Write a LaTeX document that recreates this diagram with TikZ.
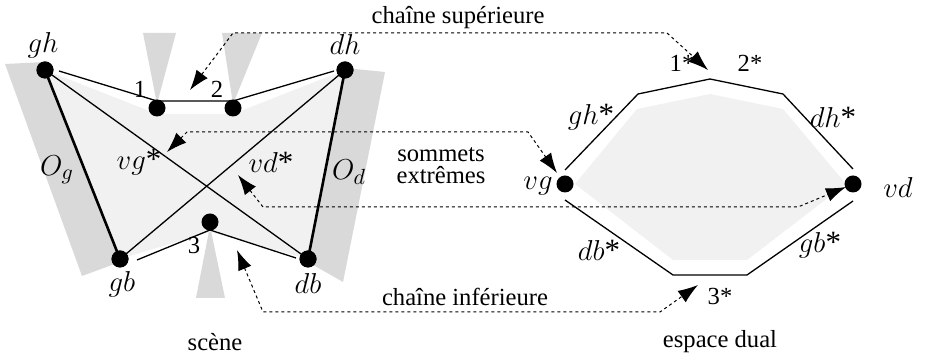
\documentclass[tikz,border=0pt]{standalone}
\usepackage{fontspec}
\setmainfont{Liberation Serif}
\usetikzlibrary{arrows.meta}
\definecolor{lightg}{HTML}{F1F1F1}
\definecolor{midg}{HTML}{D9D9D9}
\begin{document}
\begin{tikzpicture}[x=0.5pt,y=-0.5pt,
  dot/.style={circle,fill=black,inner sep=0pt,minimum size=8.5pt},
  lbl/.style={inner sep=0pt,font=\fontsize{12.3}{14}\selectfont},
  mlbl/.style={inner sep=0pt,font=\fontsize{15.5}{17}\selectfont},
  thinl/.style={line width=0.65pt},
  thickl/.style={line width=1.3pt},
  darrow/.style={line width=0.5pt,dash pattern=on 1.5pt off 1.5pt,{Latex[length=10pt,width=7pt]}-{Latex[length=10pt,width=7pt]}}]
\useasboundingbox (0,0) rectangle (926,356);
% grey obstacles
\fill[midg] (5,64) -- (45,62) -- (120,262) -- (82,276) -- cycle;
\fill[midg] (345,68) -- (385,72) -- (343,282) -- (308,262) -- cycle;
\fill[midg] (143,33) -- (176,33) -- (157,104) -- cycle;
\fill[midg] (222,33) -- (262,33) -- (233,104) -- cycle;
\fill[midg] (196,298) -- (225,298) -- (210,226) -- cycle;
% light interior
\fill[lightg] (45,70) -- (157,114) -- (233,114) -- (345,70) -- (308,259) -- (210,232) -- (120,259) -- cycle;
\fill[lightg] (575,184) -- (637,109) -- (710,94) -- (783,109) -- (846,184) -- (747,260) -- (673,260) -- cycle;
% scene nodes
\node[dot] (gh) at (45,70) {};
\node[dot] (dh) at (345,70) {};
\node[dot] (p1) at (157,108) {};
\node[dot] (p2) at (233,108) {};
\node[dot] (p3) at (210,222) {};
\node[dot] (gb) at (120,259) {};
\node[dot] (db) at (308,259) {};
% chain coordinates
\coordinate (u0) at (59,71);
\coordinate (u1) at (157,101);
\coordinate (u2) at (233,101);
\coordinate (u3) at (334,71);
\coordinate (l0) at (137,260);
\coordinate (l1) at (210,230);
\coordinate (l2) at (296,258);
\draw[thinl] (u0) -- (u1) -- (u2) -- (u3);
\draw[thinl] (l0) -- (l1) -- (l2);
\draw[thinl] (gh.center) -- (db.center);
\draw[thinl] (dh.center) -- (gb.center);
\draw[thickl] (gh.center) -- (gb.center);
\draw[thickl] (dh.center) -- (db.center);
\node[dot] at (gh) {};
\node[dot] at (dh) {};
\node[dot] at (gb) {};
\node[dot] at (db) {};
% scene labels
\node[mlbl] (tgh) at (43,45) {$gh$};
\node[mlbl] (tdh) at (345,45) {$dh$};
\node[mlbl] (tgb) at (122,284) {$gb$};
\node[mlbl] (tdb) at (308,284) {$db$};
\node[lbl] (t1) at (140,89) {1};
\node[lbl] (t2) at (217,89) {2};
\node[lbl] (t3) at (194,245) {3};
\node[mlbl] (tOg) at (57,170) {$O_g$};
\node[mlbl] (tOd) at (349,172) {$O_d$};
\node[mlbl] (tvg) at (139,162) {$vg$*};
\node[mlbl] (tvd) at (271,162) {$vd$*};
\node[lbl] (tscene) at (215,342) {scène};
% dual space
\node[dot] (vg) at (565,184) {};
\node[dot] (vd) at (853,184) {};
\coordinate (a0) at (565,170);
\coordinate (a1) at (638,94);
\coordinate (a2) at (710,79);
\coordinate (a3) at (783,94);
\coordinate (a4) at (853,169);
\coordinate (b0) at (565,200);
\coordinate (b1) at (673,275);
\coordinate (b2) at (747,275);
\coordinate (b3) at (853,201);
\draw[thinl] (a0) -- (a1) -- (a2) -- (a3) -- (a4);
\draw[thinl] (b0) -- (b1) -- (b2) -- (b3);
\node[mlbl] (tvg2) at (538,186) {$vg$};
\node[mlbl] (tvd2) at (898,188) {$vd$};
\node[lbl] (s1) at (682,63) {1*};
\node[lbl] (s2) at (750,63) {2*};
\node[mlbl] (sgh) at (591,117) {$gh$*};
\node[mlbl] (sdh) at (833,117) {$dh$*};
\node[mlbl] (sdb) at (599,250) {$db$*};
\node[mlbl] (sgb) at (820,245) {$gb$*};
\node[lbl] (s3) at (720,296) {3*};
\node[lbl] (tdual) at (720,342) {espace dual};
\node[lbl,align=center] (tsom) at (441,166) {sommets\\[-3pt]extrêmes};
\node[lbl] (tsup) at (458,18) {chaîne supérieure};
\node[lbl] (tinf) at (465,297) {chaîne inférieure};
% dotted arrows
\coordinate (ar1a) at (190,90);
\coordinate (ar1b) at (233,33);
\coordinate (ar1c) at (667,33);
\coordinate (ar1d) at (708,70);
\draw[darrow] (ar1a) -- (ar1b) -- (ar1c) -- (ar1d);
\coordinate (ar2a) at (167,152);
\coordinate (ar2b) at (187,132);
\coordinate (ar2c) at (528,132);
\coordinate (ar2d) at (557,173);
\draw[darrow] (ar2a) -- (ar2b) -- (ar2c) -- (ar2d);
\coordinate (ar3a) at (238,175);
\coordinate (ar3b) at (263,207);
\coordinate (ar3c) at (798,207);
\coordinate (ar3d) at (846,187);
\draw[darrow] (ar3a) -- (ar3b) -- (ar3c) -- (ar3d);
\coordinate (ar4a) at (237,250);
\coordinate (ar4b) at (263,312);
\coordinate (ar4c) at (660,312);
\coordinate (ar4d) at (698,285);
\draw[darrow] (ar4a) -- (ar4b) -- (ar4c) -- (ar4d);
\end{tikzpicture}
\end{document}
